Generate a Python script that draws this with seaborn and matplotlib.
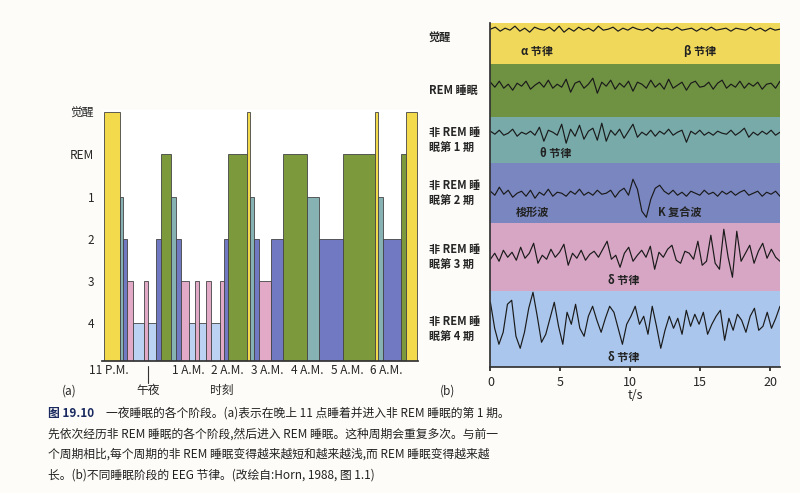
import numpy as np
import matplotlib
matplotlib.use("Agg")
import matplotlib.pyplot as plt
import seaborn as sns
import pandas as pd

sns.set_theme(style="white")
plt.rcParams['font.family'] = ['Noto Sans CJK SC', 'DejaVu Sans']

# ---------------- data: hypnogram (hours after 11 P.M.) ----------------
seg_start = [-0.11, 0.30, 0.36, 0.48, 0.63, 0.90, 1.00, 1.19, 1.32, 1.58, 1.71, 1.82,
             2.02, 2.17, 2.29, 2.45, 2.57, 2.80, 2.90, 3.00, 3.50, 3.57, 3.66, 3.79,
             4.08, 4.39, 5.00, 5.29, 5.91, 6.70, 6.79, 6.91, 7.37, 7.48]
seg_end = seg_start[1:] + [7.76]
seg_stage = ['W', '1', '2', '3', '4', '3', '4', '2', 'R', '1', '2', '3',
             '4', '3', '4', '3', '4', '3', '2', 'R', 'W', '1', '2', '3',
             '2', 'R', '1', '2', 'R', 'W', '1', '2', 'R', 'W']
stage_level = {'W': -1, 'R': 0, '1': 1, '2': 2, '3': 3, '4': 4}
stage_color = {'W': '#f2da4c', 'R': '#7c9a3c', '1': '#86b2b4', '2': '#7179c2',
               '3': '#e3aac8', '4': '#bcd2f2'}
hyp_ticks = [-1, 0, 1, 2, 3, 4]
hyp_ticklabels = ['觉醒', 'REM', '1', '2', '3', '4']
hour_pos = [0, 2, 3, 4, 5, 6, 7]
hour_labels = ['11 P.M.', '1 A.M.', '2 A.M.', '3 A.M.', '4 A.M.', '5 A.M.', '6 A.M.']

# ---------------- data: EEG traces (amplitude offsets) ----------------
eeg_wake = [0, 2, -2, 1, -1, 3, -2, 1, -3, 2, 0, -1, 2, -2, 3, -3, 1, -2, 2, -1,
            1, -2, 3, -1, 0, 2, -2, 1, -1, 2, 0, -1, 1, -2, 2, 0, 1, -1, 2, -1,
            0, 1, -2, 1, -1, 2, -1, 0, 1, -2, 1, 0, -1, 2, -1, 1, -2, 1, -1, 0]
eeg_rem = [3, -2, 4, -3, 1, -5, 2, -1, 4, -4, 0, 3, -2, 5, -3, 1, -2, 6, -7, 2,
           4, -3, 1, 7, -8, 3, -1, 5, -4, 2, -2, 4, -6, 3, 1, -3, 5, -2, 2, -4,
           6, -3, 0, 3, -5, 2, 4, -2, -1, 3, -4, 2, 5, -3, 1, -2, 4, -3, 2, -1,
           3, -4, 1, 2, -3, 4]
eeg_s1 = [2, -1, 3, -2, 0, 4, -3, 1, -1, 2, -2, 6, -8, 3, 1, -2, 9, -10, 4, -3,
          8, -6, 2, 5, -7, 10, -8, 3, -2, 4, -5, 2, 9, -4, 1, -2, 3, -3, 2, -1,
          4, -2, 1, 3, -9, 2, -1, 3, -2, 1, -2, 2, 0, -1, 3, -2, 1, 5, -4, 1,
          -2, 2, -1, 3, -2, 1]
eeg_s2 = [2, -2, 6, -1, 3, -4, 0, 2, -3, 3, -5, 1, -2, 4, -3, 1, 0, -3, 2, -1,
          4, -2, 1, -2, 3, -1, 0, 3, -4, 2, 5, -2, 14, 4, -18, -24, -6, 5, 8, 2,
          -1, 3, -2, 1, -3, 2, 0, -2, 3, -1, 1, -3, 2, -1, 2, -2, 1, 3, -2, 0,
          2, -3, 1, -1, 2, -3]
eeg_s3 = [-4, 2, -6, 5, -2, 3, -5, 8, -3, 2, 12, -8, 0, -4, 6, -2, 3, 11, -10, 2,
          -3, 5, -5, 1, 4, -2, 6, 14, -4, 0, -12, 2, 8, -6, 0, 5, -2, 9, -14, 3,
          -2, 6, 10, -5, -8, 4, 2, -4, 14, -10, -6, 20, -8, -14, 26, -2, -22, 24,
          -6, 2, 10, -8, 4, 12, -3, 6, -2, -6]
eeg_s4 = [20, -6, -22, -10, 18, 22, -14, -26, -10, 14, 30, 6, -20, -12, 4, 20,
          -4, -22, 10, -2, 18, -6, -14, 6, 16, 2, -10, 4, 16, 10, -6, -22, -2,
          6, 16, -2, 6, -12, 16, -4, -26, -8, 6, -6, 4, -12, 12, -4, 8, -2, 10,
          -12, -2, 6, 12, -18, 4, -8, 8, 2, -10, 6, 14, -8, -4, 10, -6, 4, 16]
traces = [eeg_wake, eeg_rem, eeg_s1, eeg_s2, eeg_s3, eeg_s4]
trace_center = [338, 282, 234, 174, 112, 45]
band_bottom = [303, 250, 204, 144, 76, 0]
band_top = [344, 303, 250, 204, 144, 76]
band_color = ['#f0d85a', '#6f9142', '#77aaa9', '#7a86c0', '#d7a6c4', '#aac6ec']
band_labels = ['觉醒', 'REM 睡眠', '非 REM 睡\n眠第 1 期', '非 REM 睡\n眠第 2 期',
               '非 REM 睡\n眠第 3 期', '非 REM 睡\n眠第 4 期']
t_max = 20.7

fig = plt.figure(figsize=(8, 4.93), dpi=100)
fig.patch.set_facecolor('#fdfcf8')

# ---------------- panel (a) ----------------
axA = fig.add_axes([0.128, 0.267, 0.395, 0.51])
df = pd.DataFrame({'start': seg_start, 'end': seg_end, 'stage': seg_stage})
df['level'] = df['stage'].map(stage_level)
base = 4.9
for _, r in df.iterrows():
    axA.bar(r['start'], r['level'] - base, bottom=base, width=r['end'] - r['start'],
            align='edge', color=stage_color[r['stage']], edgecolor='#444444', linewidth=0.6)
axA.set_ylim(base, -1.05)
axA.set_xlim(-0.15, 7.8)
axA.set_yticks(hyp_ticks)
axA.set_yticklabels(hyp_ticklabels, fontsize=8.5)
axA.set_xticks(hour_pos)
axA.set_xticklabels(hour_labels, fontsize=8.5)
axA.tick_params(axis='x', length=0, pad=2)
axA.tick_params(axis='y', length=0, pad=6)
for s in ['top', 'right', 'left']:
    axA.spines[s].set_visible(False)
axA.spines['bottom'].set_color('#333333')
xt = axA.get_xaxis_transform()
axA.plot([1, 1], [-0.02, -0.085], transform=xt, color='#333333', lw=0.8, clip_on=False)
axA.text(1, -0.115, '午夜', transform=xt, ha='center', va='center', fontsize=8.5)
axA.text(2.85, -0.115, '时刻', transform=xt, ha='center', va='center', fontsize=8.5)
fig.text(0.077, 0.2, '(a)', fontsize=8.5)

# ---------------- panel (b) ----------------
axB = fig.add_axes([0.613, 0.255, 0.362, 0.698])
for b0, b1, c in zip(band_bottom, band_top, band_color):
    axB.axhspan(b0, b1, color=c, lw=0)
for tr, c0 in zip(traces, trace_center):
    tt = np.linspace(0, t_max, len(tr))
    sns.lineplot(x=tt, y=np.array(tr) + c0, ax=axB, color='#1a1a1a', lw=0.85)
axB.set_xlim(0, t_max)
axB.set_ylim(0, 344)
axB.set_yticks([])
axB.set_xticks([0, 5, 10, 15, 20])
axB.tick_params(axis='x', labelsize=9, length=3, direction='out', bottom=True)
for s in ['top', 'right']:
    axB.spines[s].set_visible(False)
axB.spines['left'].set_color('#333333')
axB.spines['bottom'].set_color('#333333')
axB.set_xlabel('t/s', style='italic', fontsize=9, labelpad=0)
for lab, b0, b1 in zip(band_labels, band_bottom, band_top):
    y = (b0 + b1) / 2 + (6 if b1 == 344 else 0)
    axB.text(-4.4, y, lab, ha='left', va='center', fontsize=8, fontweight='bold',
             transform=axB.transData, clip_on=False)
notes = [(3.3, 316, 'α 节律'), (15.0, 316, 'β 节律'), (4.7, 214, 'θ 节律'),
         (3.0, 155, '梭形波'), (13.5, 155, 'K 复合波'), (9.5, 87, 'δ 节律'), (9.5, 10, 'δ 节律')]
for x, y, s in notes:
    axB.text(x, y, s, ha='center', va='center', fontsize=8, fontweight='bold', color='#222222')
fig.text(0.55, 0.2, '(b)', fontsize=8.5)

# ---------------- caption ----------------
cap = ['一夜睡眠的各个阶段。(a)表示在晚上 11 点睡着并进入非 REM 睡眠的第 1 期。',
       '先依次经历非 REM 睡眠的各个阶段,然后进入 REM 睡眠。这种周期会重复多次。与前一',
       '个周期相比,每个周期的非 REM 睡眠变得越来越短和越来越浅,而 REM 睡眠变得越来越',
       '长。(b)不同睡眠阶段的 EEG 节律。(改绘自:Horn, 1988, 图 1.1)']
fig.text(0.06, 0.155, '图 19.10', fontsize=8.5, fontweight='bold', color='#1a2a60')
fig.text(0.133, 0.155, cap[0], fontsize=8.5, color='#222222')
for i, line in enumerate(cap[1:]):
    fig.text(0.06, 0.113 - i * 0.042, line, fontsize=8.5, color='#222222')

fig.savefig('out.png', dpi=100, facecolor=fig.get_facecolor())
